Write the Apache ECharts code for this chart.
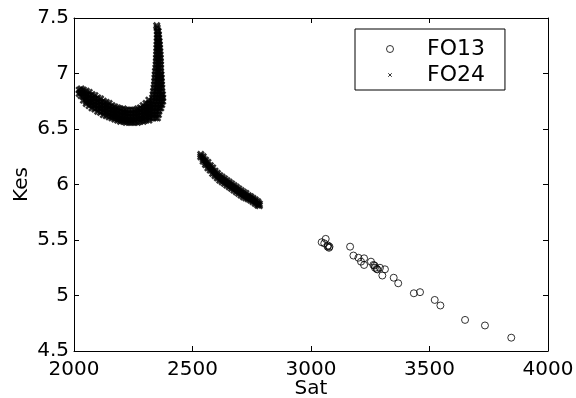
<!DOCTYPE html>
<html>
<head>
<meta charset="utf-8">
<script src="https://cdn.jsdelivr.net/npm/echarts@6/dist/echarts.min.js"></script>
<style>
html,body{margin:0;padding:0;background:#fff;}
#c{width:576px;height:398px;}
</style>
</head>
<body>
<div id="c"></div>
<script>
// ---- data ----
const xTicks = [2000, 2500, 3000, 3500, 4000];
const yTicks = [4.5, 5, 5.5, 6, 6.5, 7, 7.5];
const seriesNames = ['FO13', 'FO24'];

// FO13 points [Sat, Kes]
const fo13 = [
  [3045,5.48],[3062,5.51],[3056,5.47],[3072,5.45],[3076,5.43],[3070,5.44],[3078,5.44],
  [3165,5.44],[3179,5.36],[3200,5.34],[3224,5.335],[3211,5.305],[3224,5.275],[3253,5.305],
  [3263,5.275],[3270,5.25],[3277,5.24],[3268,5.27],[3291,5.25],[3280,5.235],[3312,5.236],
  [3301,5.18],[3349,5.16],[3368,5.11],[3434,5.02],[3460,5.03],[3522,4.96],[3546,4.91],
  [3650,4.78],[3734,4.73],[3845,4.62]
];

// FO24 crescent, lower band: [Sat, [Kes values]]
const fo24Band = [
  [2022,[6.85,6.82]],
  [2030,[6.86,6.83,6.80]],
  [2040,[6.85,6.82,6.79,6.76]],
  [2052,[6.84,6.81,6.78,6.75,6.73]],
  [2064,[6.83,6.80,6.77,6.74,6.71]],
  [2076,[6.81,6.78,6.75,6.72,6.69]],
  [2088,[6.80,6.77,6.74,6.71,6.68]],
  [2100,[6.78,6.75,6.72,6.69,6.66]],
  [2112,[6.77,6.74,6.71,6.68,6.65]],
  [2124,[6.75,6.72,6.69,6.66,6.63]],
  [2136,[6.74,6.71,6.68,6.65,6.62]],
  [2148,[6.73,6.70,6.67,6.64,6.61]],
  [2160,[6.71,6.68,6.65,6.62,6.60]],
  [2172,[6.70,6.67,6.64,6.61,6.59]],
  [2184,[6.69,6.66,6.63,6.60,6.58]],
  [2196,[6.68,6.65,6.62,6.59,6.57]],
  [2208,[6.68,6.65,6.62,6.59,6.57]],
  [2220,[6.67,6.64,6.61,6.58,6.56]],
  [2232,[6.67,6.64,6.61,6.58,6.56]],
  [2244,[6.67,6.64,6.61,6.58,6.56]],
  [2256,[6.67,6.64,6.61,6.58,6.56]],
  [2268,[6.68,6.65,6.62,6.59,6.56]],
  [2280,[6.69,6.66,6.63,6.60,6.57]],
  [2292,[6.71,6.68,6.65,6.62,6.59,6.57]],
  [2304,[6.73,6.70,6.67,6.64,6.61,6.58]],
  [2316,[6.76,6.73,6.70,6.67,6.64,6.61,6.58]]
];

// FO24 crescent, right arm: [Kes, [Sat values]]
const fo24Arm = [
  [6.60,[2320,2332,2344,2352]],
  [6.63,[2320,2332,2344,2356]],
  [6.66,[2322,2334,2346,2358]],
  [6.69,[2324,2336,2348,2360,2366]],
  [6.72,[2326,2338,2350,2362,2370]],
  [6.75,[2330,2342,2354,2366,2374]],
  [6.78,[2332,2344,2356,2368,2374]],
  [6.81,[2334,2346,2358,2368,2373]],
  [6.84,[2336,2348,2360,2370]],
  [6.87,[2338,2350,2362,2370]],
  [6.90,[2340,2351,2362,2369]],
  [6.93,[2341,2352,2363,2368]],
  [6.96,[2342,2353,2363,2368]],
  [6.99,[2343,2354,2364,2367]],
  [7.02,[2344,2355,2365]],
  [7.05,[2346,2356,2365]],
  [7.08,[2347,2356,2365]],
  [7.11,[2348,2356,2364]],
  [7.14,[2348,2356,2364]],
  [7.17,[2349,2356,2363]],
  [7.20,[2350,2356,2362]],
  [7.23,[2350,2356,2361]],
  [7.26,[2351,2356,2360]],
  [7.29,[2351,2356,2359]],
  [7.32,[2352,2357]],
  [7.35,[2352,2356]],
  [7.38,[2352,2355]],
  [7.41,[2351]],
  [7.43,[2349]]
];

// FO24 descending segment: [Sat, [Kes values]]
const fo24Tail = [
  [2535,[6.27,6.25]],
  [2545,[6.25,6.23,6.21]],
  [2555,[6.22,6.20,6.18]],
  [2565,[6.20,6.175,6.15]],
  [2575,[6.17,6.15,6.13]],
  [2585,[6.15,6.125,6.10]],
  [2595,[6.12,6.10,6.08]],
  [2605,[6.10,6.08,6.06]],
  [2615,[6.08,6.06,6.04]],
  [2625,[6.065,6.045,6.025]],
  [2635,[6.05,6.03,6.01]],
  [2645,[6.035,6.015,5.995]],
  [2655,[6.02,6.00,5.98]],
  [2665,[6.005,5.985,5.965]],
  [2675,[5.99,5.97,5.95]],
  [2685,[5.975,5.955,5.935]],
  [2695,[5.96,5.94,5.92]],
  [2705,[5.945,5.925,5.905]],
  [2715,[5.93,5.91,5.89]],
  [2725,[5.92,5.90,5.88]],
  [2735,[5.90,5.885,5.87]],
  [2745,[5.89,5.875,5.86]],
  [2755,[5.875,5.86,5.845]],
  [2765,[5.86,5.845,5.83]],
  [2775,[5.845,5.83,5.815]],
  [2782,[5.825,5.81]]
];

// ---- build ----
const fo24 = [];
fo24Band.forEach(([x, ys]) => ys.forEach(y => fo24.push([x, y])));
fo24Arm.forEach(([y, xs]) => xs.forEach(x => fo24.push([x, y])));
fo24Tail.forEach(([x, ys]) => ys.forEach(y => fo24.push([x, y])));

const FONT = 'DejaVu Sans';
const crossPath = 'path://M0,0L10,10M10,0L0,10';
const crossIcon = 'path://M0,0M10,10M2.5,2.5L7.5,7.5M7.5,2.5L2.5,7.5';

const axisCommon = {
  type: 'value',
  splitLine: { show: false },
  axisLine: { show: true, onZero: false, lineStyle: { color: '#000', width: 1 } },
  axisTick: { show: true, inside: true, length: 5, lineStyle: { color: '#000', width: 1 } }
};

const chart = echarts.init(document.getElementById('c'), null, { renderer: 'canvas' });
chart.setOption({
  backgroundColor: '#fff',
  animation: false,
  grid: { left: 74, right: 28, top: 18, bottom: 47, containLabel: false, outerBoundsMode: 'none' },
  xAxis: [
    Object.assign({}, axisCommon, {
      min: xTicks[0], max: xTicks[xTicks.length - 1], interval: 500, position: 'bottom',
      axisLabel: { fontSize: 20, fontFamily: FONT, color: '#000', margin: 9,
                   formatter: v => String(v) },
      name: 'Sat', nameLocation: 'middle', nameGap: 28, nameMoveOverlap: false,
      nameTextStyle: { fontSize: 20, fontFamily: FONT, color: '#000' }
    }),
    Object.assign({}, axisCommon, {
      min: xTicks[0], max: xTicks[xTicks.length - 1], interval: 500, position: 'top',
      axisLabel: { show: false }
    })
  ],
  yAxis: [
    Object.assign({}, axisCommon, {
      min: yTicks[0], max: yTicks[yTicks.length - 1], interval: 0.5, position: 'left',
      axisLabel: { fontSize: 20, fontFamily: FONT, color: '#000', margin: 5,
                   formatter: v => String(v) },
      name: 'Kes', nameLocation: 'middle', nameGap: 42, nameRotate: 90, nameMoveOverlap: false,
      nameTextStyle: { fontSize: 20, fontFamily: FONT, color: '#000' }
    }),
    Object.assign({}, axisCommon, {
      min: yTicks[0], max: yTicks[yTicks.length - 1], interval: 0.5, position: 'right',
      axisLabel: { show: false }
    })
  ],
  legend: {
    orient: 'vertical',
    left: 355, top: 29,
    backgroundColor: '#fff',
    borderColor: '#000', borderWidth: 1, borderRadius: 0,
    padding: [8, 20, 3, 31],
    itemWidth: 64, itemHeight: 7, itemGap: 2,
    textStyle: { fontSize: 22, fontFamily: FONT, color: '#000', lineHeight: 24 },
    data: [
      { name: seriesNames[0], icon: 'circle',
        itemStyle: { color: 'rgba(0,0,0,0)', borderColor: '#000', borderWidth: 1 } },
      { name: seriesNames[1], icon: crossIcon,
        itemStyle: { color: 'rgba(0,0,0,0)', borderColor: '#000', borderWidth: 1 } }
    ]
  },
  series: [
    {
      name: seriesNames[0], type: 'scatter', data: fo13,
      symbol: 'circle', symbolSize: 7,
      itemStyle: { color: 'rgba(0,0,0,0)', borderColor: '#000', borderWidth: 1 },
      emphasis: { disabled: true }
    },
    {
      name: seriesNames[1], type: 'scatter', data: fo24,
      symbol: crossPath, symbolSize: 6,
      itemStyle: { color: 'rgba(0,0,0,0)', borderColor: '#000', borderWidth: 2.6 },
      emphasis: { disabled: true }
    }
  ]
});
</script>
</body>
</html>
